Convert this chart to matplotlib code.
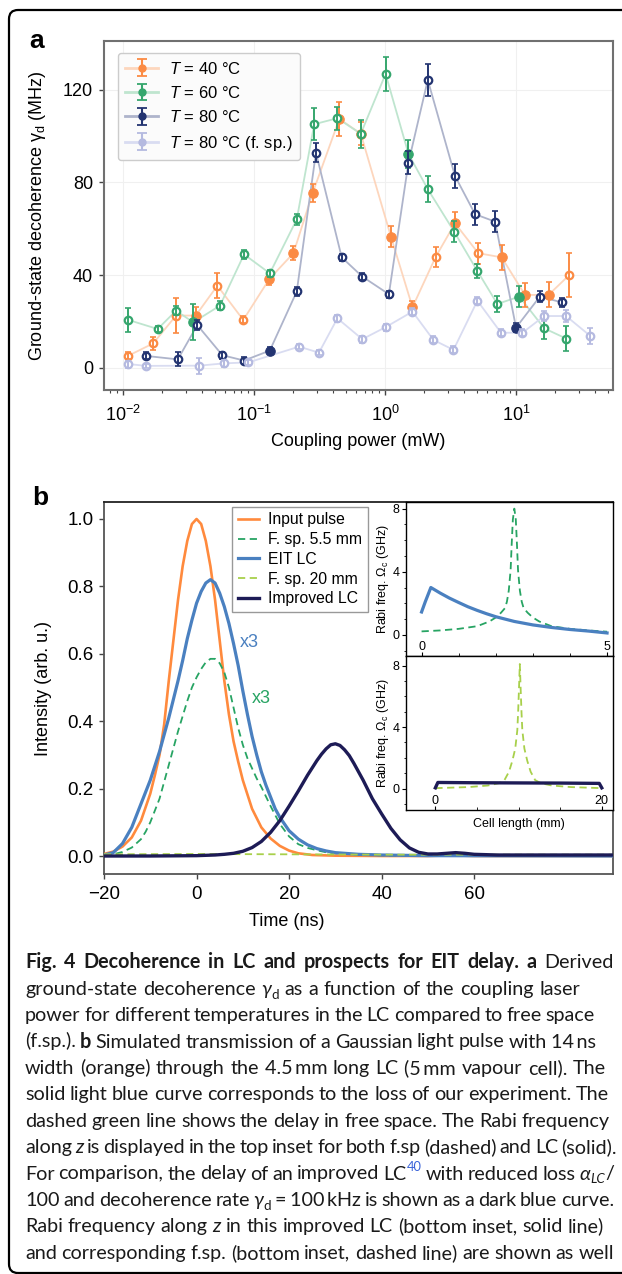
import numpy as np
import matplotlib
matplotlib.use('Agg')
import matplotlib.pyplot as plt
from matplotlib.transforms import IdentityTransform
from matplotlib.patches import FancyBboxPatch
from matplotlib.ticker import MultipleLocator, FixedLocator

plt.rcParams['font.family'] = ['Liberation Sans', 'DejaVu Sans']
plt.rcParams['mathtext.fontset'] = 'custom'
plt.rcParams['mathtext.rm'] = 'Liberation Sans'
plt.rcParams['mathtext.it'] = 'Liberation Sans:italic'
plt.rcParams['mathtext.bf'] = 'Liberation Sans:bold'

# ---------------- Panel a data (coupling power mW, decoherence MHz, error) ----------------
p40 = [0.011, 0.017, 0.0254, 0.0359, 0.0525, 0.0828, 0.131, 0.20, 0.28, 0.448, 0.653,
       1.11, 1.62, 2.44, 3.42, 5.15, 7.77, 11.7, 17.7, 25.5]
g40 = [5.3, 10.6, 22.6, 22.6, 35.5, 20.7, 38.4, 49.5, 75.4, 107.4, 101.0,
       56.6, 26.2, 48.0, 62.4, 49.5, 47.7, 31.5, 31.5, 40.1]
e40 = [1.5, 2.8, 7.5, 3.5, 5.4, 1.5, 2.5, 3.0, 3.8, 7.3, 5.0,
       4.6, 2.5, 4.3, 5.0, 4.6, 5.5, 5.2, 5.4, 9.6]
filled40 = [0, 0, 0, 1, 0, 0, 1, 1, 1, 1, 1, 1, 1, 0, 1, 0, 1, 1, 1, 0]

p60 = [0.011, 0.0184, 0.0254, 0.0344, 0.055, 0.084, 0.132, 0.212, 0.288, 0.433, 0.653,
       1.01, 1.51, 2.12, 3.37, 5.07, 7.2, 10.6, 16.4, 24.1]
g60 = [20.7, 16.8, 24.7, 19.7, 26.9, 49.0, 40.8, 64.1, 105.1, 107.7, 101.0,
       126.8, 92.3, 77.1, 58.8, 41.8, 27.6, 30.8, 17.1, 12.7]
e60 = [5.0, 1.5, 2.0, 7.7, 2.0, 2.0, 1.5, 2.5, 7.0, 5.0, 6.0,
       7.5, 6.0, 5.5, 4.5, 3.0, 3.5, 4.5, 4.5, 5.5]
filled60 = [0, 0, 0, 1, 0, 0, 0, 0, 0, 0, 0, 0, 1, 0, 0, 0, 0, 1, 0, 0]

p80 = [0.015, 0.0262, 0.0369, 0.0573, 0.084, 0.132, 0.212, 0.297, 0.467, 0.671,
       1.07, 1.51, 2.12, 3.42, 4.87, 6.92, 10.0, 15.2, 22.3]
g80 = [5.2, 3.7, 18.5, 5.5, 3.2, 7.5, 33.0, 92.9, 47.7, 39.4,
       31.8, 88.6, 124.2, 82.8, 66.3, 63.1, 17.4, 30.8, 28.3]
e80 = [1.5, 3.0, 2.0, 1.5, 1.5, 1.5, 2.0, 4.0, 1.5, 1.5,
       1.5, 5.0, 7.0, 5.0, 4.5, 4.5, 2.0, 2.5, 2.0]
filled80 = [0, 0, 0, 0, 0, 1, 0, 0, 0, 0, 0, 0, 0, 0, 0, 0, 1, 0, 0]

pfs = [0.011, 0.015, 0.0382, 0.0593, 0.0906, 0.221, 0.313, 0.433, 0.671, 1.01,
       1.62, 2.34, 3.33, 5.07, 7.67, 11.2, 16.4, 24.1, 36.7]
gfs = [1.7, 0.9, 1.0, 2.0, 2.4, 9.2, 6.6, 21.4, 12.4, 17.6,
       24.3, 12.1, 7.8, 29.0, 15.2, 15.2, 22.4, 22.4, 13.9]
efs = [1.5, 1.0, 3.5, 1.5, 1.0, 1.0, 1.0, 1.5, 1.5, 1.5,
       1.5, 1.5, 1.5, 1.5, 1.5, 1.5, 2.0, 2.5, 3.5]
filledfs = [0] * 19

labels_a = ['$T$ = 40 °C', '$T$ = 60 °C', '$T$ = 80 °C', '$T$ = 80 °C (f. sp.)']

# ---------------- Panel b data (time ns, intensity arb. u.) ----------------
t_input = [-20, -18, -16, -14, -12, -10, -9, -8, -7, -6, -5, -4, -3, -2, -1, 0, 1, 2, 3, 4,
           5, 6, 7, 8, 9, 10, 12, 14, 16, 18, 20, 22, 25, 30, 40, 50, 55, 60, 90]
I_input = [0.006, 0.013, 0.028, 0.055, 0.105, 0.185, 0.24, 0.30, 0.39, 0.52, 0.64, 0.76, 0.86,
           0.935, 0.985, 1.0, 0.985, 0.935, 0.86, 0.76, 0.64, 0.52, 0.42, 0.34, 0.28, 0.225,
           0.14, 0.085, 0.052, 0.03, 0.016, 0.008, 0.003, 0.001, 0.0, 0.0, 0.002, 0.0, 0.0]

t_fs55 = [-20, -18, -16, -14, -12, -11, -10, -9, -8, -7, -6, -5, -4, -3, -2, -1, 0, 1, 2, 3, 4,
          5, 6, 7, 8, 9, 10, 11, 12, 13, 14, 16, 18, 20, 22, 24, 26, 28, 30, 35, 40, 45, 90]
I_fs55 = [0.002, 0.005, 0.012, 0.025, 0.05, 0.072, 0.10, 0.135, 0.17, 0.22, 0.27, 0.32, 0.37,
          0.415, 0.46, 0.50, 0.53, 0.555, 0.575, 0.585, 0.585, 0.572, 0.545, 0.50, 0.44, 0.38,
          0.33, 0.29, 0.26, 0.23, 0.205, 0.148, 0.095, 0.058, 0.035, 0.024, 0.017, 0.011,
          0.008, 0.004, 0.002, 0.001, 0.0]

t_eit = [-20, -18, -16, -14, -12, -10, -8, -6, -4, -3, -2, -1, 0, 1, 2, 3, 4, 5, 6, 7, 8, 9,
         10, 11, 12, 13, 14, 15, 16, 17, 18, 20, 22, 24, 26, 28, 30, 35, 40, 50, 90]
I_eit = [0.003, 0.01, 0.037, 0.085, 0.155, 0.225, 0.31, 0.41, 0.52, 0.58, 0.645, 0.70, 0.75,
         0.785, 0.81, 0.82, 0.81, 0.78, 0.74, 0.69, 0.63, 0.565, 0.49, 0.42, 0.355, 0.30,
         0.25, 0.21, 0.175, 0.14, 0.115, 0.075, 0.05, 0.033, 0.022, 0.015, 0.01, 0.005,
         0.003, 0.001, 0.0]

t_fs20 = [-20, 0, 20, 40, 60, 90]
I_fs20 = [0.005, 0.006, 0.005, 0.004, 0.004, 0.004]

t_impr = [-20, -10, 0, 4, 6, 8, 10, 12, 14, 16, 18, 20, 22, 24, 26, 27, 28, 29, 30, 31, 32,
          33, 34, 36, 38, 40, 42, 44, 46, 48, 50, 52, 54, 56, 58, 60, 65, 90]
I_impr = [0.0, 0.0, 0.001, 0.003, 0.005, 0.008, 0.014, 0.025, 0.043, 0.07, 0.105, 0.148,
          0.193, 0.24, 0.283, 0.302, 0.318, 0.33, 0.333, 0.328, 0.315, 0.298, 0.275, 0.225,
          0.17, 0.125, 0.082, 0.048, 0.024, 0.011, 0.006, 0.006, 0.008, 0.01, 0.008, 0.005,
          0.003, 0.003]

labels_b = ['Input pulse', 'F. sp. 5.5 mm', 'EIT LC', 'F. sp. 20 mm', 'Improved LC']

# insets: cell position (mm) vs Rabi frequency (GHz)
z_top_lc = [0, 0.1, 0.25, 0.5, 0.75, 1.0, 1.25, 1.5, 1.75, 2.0, 2.5, 3.0, 3.5, 4.0, 4.5, 5.0]
om_top_lc = [1.45, 2.1, 3.0, 2.65, 2.33, 2.05, 1.78, 1.55, 1.34, 1.15, 0.85, 0.63, 0.47,
             0.34, 0.24, 0.12]
z_top_fs = [0, 0.5, 1.0, 1.5, 1.83, 2.0, 2.14, 2.25, 2.3, 2.35, 2.4, 2.43, 2.46, 2.5,
            2.54, 2.57, 2.6, 2.65, 2.7, 2.75, 2.86, 3.0, 3.17, 3.5, 4.0, 4.5, 5.0]
om_top_fs = [0.22, 0.28, 0.38, 0.55, 0.85, 1.1, 1.4, 1.7, 2.1, 2.8, 4.1, 5.8, 7.3, 8.0,
             7.3, 5.8, 4.1, 2.8, 2.1, 1.7, 1.4, 1.1, 0.85, 0.55, 0.38, 0.28, 0.2]
z_bot_lc = [0, 0.3, 5, 10, 15, 19.7, 20]
om_bot_lc = [0.05, 0.40, 0.38, 0.37, 0.36, 0.34, 0.05]
z_bot_fs = [0, 4, 6.3, 7.6, 8.3, 8.85, 9.25, 9.6, 9.85, 9.95, 10.05, 10.15, 10.25, 10.35,
            10.45, 10.7, 11.05, 11.45, 12.0, 12.7, 14.0, 16.3, 20.0]
om_bot_fs = [0.03, 0.1, 0.2, 0.35, 0.55, 1.1, 1.8, 2.6, 3.8, 5.0, 6.5, 8.1, 6.5, 5.0, 3.8,
             2.6, 1.8, 1.1, 0.55, 0.35, 0.2, 0.1, 0.03]

# ---------------- caption ----------------
CAPTION = [
    [("Fig. 4 Decoherence in LC and prospects for EIT delay.", 'b'), (" ", 'n'), ("a", 'b'), (" Derived", 'n')],
    [("ground-state decoherence ", 'n'), ("γ", 'gi'), ("d", 'sub'), (" as a function of the coupling laser", 'n')],
    [("power for different temperatures in the LC compared to free space", 'n')],
    [("(f.sp.). ", 'n'), ("b", 'b'), (" Simulated transmission of a Gaussian light pulse with 14\u2009ns", 'n')],
    [("width (orange) through the 4.5\u2009mm long LC (5\u2009mm vapour cell). The", 'n')],
    [("solid light blue curve corresponds to the loss of our experiment. The", 'n')],
    [("dashed green line shows the delay in free space. The Rabi frequency", 'n')],
    [("along ", 'n'), ("z", 'i'), (" is displayed in the top inset for both f.sp (dashed) and LC (solid).", 'n')],
    [("For comparison, the delay of an improved LC", 'n'), ("40", 'sup'), (" with reduced loss ", 'n'),
     ("α", 'gi'), ("LC", 'subi'), ("/", 'n')],
    [("100 and decoherence rate ", 'n'), ("γ", 'gi'), ("d", 'sub'), (" = 100\u2009kHz is shown as a dark blue curve.", 'n')],
    [("Rabi frequency along ", 'n'), ("z", 'i'), (" in this improved LC (bottom inset, solid line)", 'n')],
    [("and corresponding f.sp. (bottom inset, dashed line) are shown as well", 'n')],
]
CAP_RIGHT = [614, 580, 595, 596, 606, 609, 610, 617, 614, 614, 604, 614]

# ======================================================================
W, H = 622, 1274
fig = plt.figure(figsize=(W / 100, H / 100), dpi=100)


def axes_px(l, t, r, b):
    return fig.add_axes([l / W, 1 - b / H, (r - l) / W, (b - t) / H])


# ---------------- Panel a ----------------
axA = axes_px(104, 41, 613, 390)
axA.set_xscale('log')
cols_a = ['#fb8b44', '#35a66d', '#233471', '#b5bae0']
light_a = ['#fdd6bd', '#bfe5cf', '#aeb4cb', '#d9dcf1']
data_a = [(p40, g40, e40, filled40), (p60, g60, e60, filled60),
          (p80, g80, e80, filled80), (pfs, gfs, efs, filledfs)]
for k, ((px_, gy, ee, ff), c, lc, lab) in enumerate(zip(data_a, cols_a, light_a, labels_a)):
    px_ = np.array(px_); gy = np.array(gy); ee = np.array(ee); ff = np.array(ff, bool)
    axA.plot(px_, gy, '-', color=lc, lw=1.3, zorder=1.5)
    z = 2 + k
    axA.plot(px_[~ff], gy[~ff], 'o', ls='none', ms=5.4, mfc='white', mec=c, mew=1.6, zorder=z)
    axA.plot(px_[ff], gy[ff], 'o', ls='none', ms=6.8, mfc=c, mec=c, mew=0.8, zorder=z)
    axA.errorbar(px_, gy, yerr=ee, fmt='none', ecolor=c, elinewidth=1.4, capsize=2.3,
                 capthick=1.2, zorder=z + 0.5)
    axA.errorbar([1e-6], [-500], yerr=[1], fmt='-o', color=lc, mfc=c, mec=c, ms=5, lw=2.0,
                 ecolor=c, elinewidth=1.5, capsize=3.5, capthick=1.3, label=lab)

axA.set_xlim(10 ** -2.145, 10 ** 1.74)
axA.set_ylim(-9.5, 141)
axA.set_yticks([0, 40, 80, 120])
axA.grid(True, which='major', color='#f0f0f0', lw=0.8)
axA.set_axisbelow(True)
for s in axA.spines.values():
    s.set_color('#707070')
    s.set_linewidth(1.5)
axA.tick_params(axis='both', which='major', labelsize=13, length=3.5, width=1, color='#444')
axA.tick_params(axis='x', which='major', pad=7)
axA.tick_params(axis='x', which='minor', length=2, width=0.8, color='#444')
axA.tick_params(axis='y', which='major', pad=4.5)
axA.set_xlabel('Coupling power (mW)', fontsize=13)
axA.xaxis.set_label_coords(0.5, -0.123)
axA.set_ylabel('Ground-state decoherence γ$_\\mathrm{d}$ (MHz)', fontsize=13)
axA.yaxis.set_label_coords(-0.111, 0.5)
axA.legend(loc='upper left', bbox_to_anchor=(0.0275, 0.9656), borderaxespad=0, fontsize=12,
           frameon=True, fancybox=True, edgecolor='#cccccc', facecolor='#fbfbfb', framealpha=1,
           handlelength=1.95, labelspacing=0.5, handletextpad=0.65, borderpad=0.45)

# ---------------- Panel b ----------------
axB = axes_px(104, 502, 613, 874)
cols_b = ['#ff8a3d', '#27a463', '#4a80c0', '#a8d04b', '#1d1b56']
axB.plot(t_input, I_input, color=cols_b[0], lw=1.9, label=labels_b[0], zorder=3)
axB.plot(t_fs55, I_fs55, color=cols_b[1], lw=1.3, ls=(0, (4, 2.5)), label=labels_b[1], zorder=3)
axB.plot(t_eit, I_eit, color=cols_b[2], lw=2.3, label=labels_b[2], zorder=3)
axB.plot(t_fs20, I_fs20, color=cols_b[3], lw=1.3, ls=(0, (4, 2.5)), label=labels_b[3], zorder=3)
axB.plot(t_impr, I_impr, color=cols_b[4], lw=2.4, label=labels_b[4], zorder=3)
axB.set_xlim(-20, 90)
axB.set_ylim(-0.0534, 1.0504)
axB.set_xticks([-20, 0, 20, 40, 60])
axB.set_yticks([0, 0.2, 0.4, 0.6, 0.8, 1.0])
axB.set_yticklabels(['0.0', '0.2', '0.4', '0.6', '0.8', '1.0'])
for name, s in axB.spines.items():
    s.set_color('#222222' if name == 'top' else '#555555')
    s.set_linewidth(1.3)
axB.tick_params(axis='both', labelsize=13.5, length=3.5, width=1, color='#444')
axB.tick_params(axis='x', pad=5)
axB.tick_params(axis='y', pad=4)
axB.set_xlabel('Time (ns)', fontsize=13)
axB.xaxis.set_label_coords(0.3585, -0.105)
axB.set_ylabel('Intensity (arb. u.)', fontsize=13)
axB.yaxis.set_label_coords(-0.103, 0.5)
axB.text(9.3, 0.633, 'x3', color=cols_b[2], fontsize=13, va='center', ha='left')
axB.text(11.9, 0.468, 'x3', color=cols_b[1], fontsize=13, va='center', ha='left')
axB.legend(loc='upper left', bbox_to_anchor=(0.2515, 0.9866), borderaxespad=0, fontsize=11.3,
           frameon=True, fancybox=False, edgecolor='#999999', facecolor='white', framealpha=1,
           handlelength=1.4, labelspacing=0.3, handletextpad=0.55, borderpad=0.35)

# insets
ins1 = axes_px(406, 502, 613, 656)
ins1.plot(z_top_fs, om_top_fs, color=cols_b[1], lw=1.3, ls=(0, (4, 2.5)))
ins1.plot(z_top_lc, om_top_lc, color=cols_b[2], lw=2.3)
ins1.set_xlim(-0.42, 5.16)
ins1.set_ylim(-1.34, 8.42)

ins2 = axes_px(406, 656, 613, 810)
ins2.plot(z_bot_fs, om_bot_fs, color=cols_b[3], lw=1.3, ls=(0, (4, 2.5)))
ins2.plot(z_bot_lc, om_bot_lc, color=cols_b[4], lw=2.4)
ins2.set_xlim(-3.53, 21.35)
ins2.set_ylim(-1.39, 8.62)

for ax, xmaj, xmin in [(ins1, [0, 5], [1, 2, 3, 4]), (ins2, [0, 20], [5, 10, 15])]:
    ax.set_xticks(xmaj)
    ax.xaxis.set_minor_locator(FixedLocator(xmin))
    ax.set_yticks([0, 4, 8])
    ax.yaxis.set_minor_locator(MultipleLocator(1))
    ax.tick_params(axis='x', which='both', direction='in', pad=-11, labelsize=9)
    ax.tick_params(axis='x', which='major', length=3)
    ax.tick_params(axis='x', which='minor', length=2)
    ax.tick_params(axis='y', which='major', direction='out', length=3, pad=1.5, labelsize=9)
    ax.tick_params(axis='y', which='minor', direction='out', length=1.5)
    for s in ax.spines.values():
        s.set_color('black')
        s.set_linewidth(1.0)
    ax.set_ylabel('Rabi freq. $\\Omega_\\mathrm{c}$ (GHz)', fontsize=9)
    ax.yaxis.set_label_coords(-0.0725, 0.5)
    ax.set_facecolor('white')
ins2.set_xlabel('Cell length (mm)', fontsize=9)
ins2.xaxis.set_label_coords(0.544, -0.05)

# panel letters
fig.text(29, H - 48, 'a', transform=IdentityTransform(), fontsize=19, fontweight='bold',
         va='baseline', ha='left')
fig.text(32, H - 505, 'b', transform=IdentityTransform(), fontsize=19, fontweight='bold',
         va='baseline', ha='left')

# outer frame
frame = FancyBboxPatch((9, 1), 660, 1263, boxstyle='round,pad=0,rounding_size=9',
                       transform=IdentityTransform(), fill=False, lw=1.6, ec='black')
fig.add_artist(frame)

# ---------------- caption layout ----------------
STYLE = {
    'n': {}, 'b': {'weight': 'bold'}, 'i': {'style': 'italic'}, 'gi': {'style': 'italic'},
    'sub': {'rel': 0.68, 'dy': -0.2}, 'subi': {'rel': 0.68, 'dy': -0.2, 'style': 'italic'},
    'sup': {'rel': 0.65, 'dy': 0.45, 'color': '#3a63d8'},
}
CAP_LEFT = 25
CAP_BASE0 = 968.3
CAP_STEP = 26.4
renderer = fig.canvas.get_renderer()
base = 13.5
objs = []
for runs in CAPTION:
    words = [[]]
    for txt, kind in runs:
        parts = txt.split(' ')
        for i, p in enumerate(parts):
            if i > 0:
                words.append([])
            if p:
                words[-1].append((p, kind))
    words = [w for w in words if w]
    lw = []
    for w in words:
        pw = []
        for p, kind in w:
            st = STYLE[kind]
            t = fig.text(0, 0, p, transform=IdentityTransform(), ha='left', va='baseline',
                         family=['Lato', 'DejaVu Sans'], fontsize=base * st.get('rel', 1),
                         fontweight=st.get('weight', 'normal'), fontstyle=st.get('style', 'normal'),
                         color=st.get('color', '#1a1a1a'))
            pw.append((t, st))
        lw.append(pw)
    objs.append(lw)


def widths(lw):
    return [[t.get_window_extent(renderer).width for t, st in pw] for pw in lw]


ratios = []
for i, lw in enumerate(objs):
    ws = widths(lw)
    tot = sum(sum(x) for x in ws)
    nat = tot + (len(lw) - 1) * 0.22 * base * 100 / 72
    ratios.append(nat / (CAP_RIGHT[i] - CAP_LEFT))
size = base / np.median(ratios)
for lw in objs:
    for pw in lw:
        for t, st in pw:
            t.set_fontsize(size * st.get('rel', 1))
pxem = size * 100 / 72
for i, lw in enumerate(objs):
    ws = widths(lw)
    tot = sum(sum(x) for x in ws)
    gaps = len(lw) - 1
    sp = (CAP_RIGHT[i] - CAP_LEFT - tot) / gaps if gaps else 0
    x = CAP_LEFT
    yb = H - (CAP_BASE0 + i * CAP_STEP)
    for pw, wl in zip(lw, ws):
        for (t, st), w in zip(pw, wl):
            t.set_position((x, yb + st.get('dy', 0) * pxem))
            x += w
        x += sp

fig.savefig('out.png', dpi=100)
